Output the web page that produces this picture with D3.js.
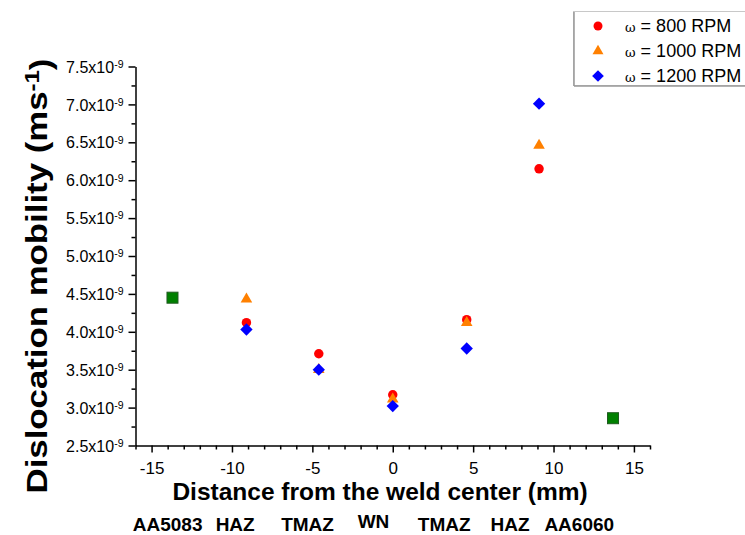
<!DOCTYPE html>
<html><head><meta charset="utf-8">
<script src="https://d3js.org/d3.v7.min.js"></script>
<style>body{margin:0;background:#fff}svg{display:block}text{font-family:Arial,"Liberation Sans",sans-serif}</style>
</head><body>
<script>
// ---- data ----
const xRpm = [-9.1, -4.6, 0, 4.6, 9.1];
const rpm800 = [4.12, 3.71, 3.17, 4.16, 6.15];
const rpm1000 = [4.43, 3.50, 3.11, 4.12, 6.46];
const rpm1200 = [4.03, 3.50, 3.02, 3.78, 7.01];
const xBase = [-13.7, 13.7];
const baseVals = [4.45, 2.86];
const seriesNames = ["\u03c9 = 800 RPM", "\u03c9 = 1000 RPM", "\u03c9 = 1200 RPM"];
const xTicks = [-15, -10, -5, 0, 5, 10, 15];
const yTicks = [2.5, 3.0, 3.5, 4.0, 4.5, 5.0, 5.5, 6.0, 6.5, 7.0, 7.5];
const zones = ["AA5083", "HAZ", "TMAZ", "WN", "TMAZ", "HAZ", "AA6060"];
const zoneX = [-14.0, -9.8, -5.3, -1.2, 3.2, 7.3, 11.6];

const W = 745, H = 535;
const svg = d3.select("body").append("svg").attr("width", W).attr("height", H);
const x = d3.scaleLinear().domain([-16, 16]).range([135.5, 650]);
const y = d3.scaleLinear().domain([2.5, 7.5]).range([445.5, 66.5]);

// axes
const xMinor = d3.range(-16, 17, 1).filter(v => v % 5 !== 0);
const yMinor = d3.range(2.75, 7.5, 0.5);
const gx = svg.append("g").attr("transform", `translate(0,${y(2.5)})`);
gx.call(d3.axisBottom(x).tickValues(xMinor).tickSize(4).tickFormat("")).call(g => g.select(".domain").remove());
gx.append("g").call(d3.axisBottom(x).tickValues(xTicks).tickSize(7).tickSizeOuter(0).tickPadding(9).tickFormat(d => String(d)));
gx.selectAll("line,path").attr("stroke", "#000").attr("stroke-width", 1.5);
gx.selectAll("text").attr("font-size", 17).attr("fill", "#000").attr("font-family", "Arial, 'Liberation Sans', sans-serif");

const gy = svg.append("g").attr("transform", `translate(${x(-16)},0)`);
gy.call(d3.axisLeft(y).tickValues(yMinor).tickSize(4).tickFormat("")).call(g => g.select(".domain").remove());
const gyMaj = gy.append("g").call(d3.axisLeft(y).tickValues(yTicks).tickSize(7).tickSizeOuter(0).tickFormat(""));
gy.selectAll("line,path").attr("stroke", "#000").attr("stroke-width", 1.5);
gyMaj.selectAll(".tick").each(function(d) {
  const t = d3.select(this).append("text").attr("x", -12).attr("dy", "0.35em")
    .attr("text-anchor", "end").attr("fill", "#000").attr("font-size", 16);
  t.append("tspan").text(d.toFixed(1) + "x10");
  t.append("tspan").attr("dy", "-0.45em").attr("font-size", 10.5).text("-9");
});

// axis titles
svg.append("text").attr("x", 380).attr("y", 500).attr("text-anchor", "middle")
  .attr("font-size", 24.5).attr("font-weight", "bold").text("Distance from the weld center (mm)");
const yt = svg.append("text").attr("transform", "translate(47,276) rotate(-90) scale(1.2,1)").attr("text-anchor", "middle")
  .attr("font-size", 29).attr("font-weight", "bold");
yt.append("tspan").text("Dislocation mobility (ms");
yt.append("tspan").attr("dy", "-0.4em").attr("font-size", 20).text("-1");
yt.append("tspan").attr("dy", "0.4em").text(")");

// zone labels
svg.append("g").selectAll("text").data(zones).join("text")
  .attr("x", (d, i) => x(zoneX[i])).attr("y", (d, i) => d === "WN" ? 528 : 531)
  .attr("text-anchor", "middle").attr("font-size", 19).attr("font-weight", "bold").text(d => d);

// markers
const colors = ["#ff0000", "#ff8000", "#0000ff"];
const shapes = [d3.symbolCircle, d3.symbolTriangle, d3.symbolSquare];
const rot = [0, 0, 45];
const sizes = [70, 58, 76];
const series = [rpm800, rpm1000, rpm1200];
series.forEach((vals, s) => {
  svg.append("g").selectAll("path").data(vals).join("path")
    .attr("transform", (d, i) => `translate(${x(xRpm[i])},${y(d)}) rotate(${rot[s]})`)
    .attr("d", d3.symbol().type(shapes[s]).size(sizes[s]))
    .attr("fill", colors[s]);
});
svg.append("g").selectAll("rect").data(baseVals).join("rect")
  .attr("x", (d, i) => x(xBase[i]) - 5.5).attr("y", d => y(d) - 5.5)
  .attr("width", 11).attr("height", 11)
  .attr("fill", "#008000").attr("stroke", "#1f5a1f").attr("stroke-width", 1);

// legend
const lg = svg.append("g");
lg.append("rect").attr("x", 573.5).attr("y", 11.5).attr("width", 180).attr("height", 74)
  .attr("fill", "#fff").attr("stroke", "#c8c8c8").attr("stroke-width", 1);
lg.append("line").attr("x1", 574).attr("x2", 574).attr("y1", 12).attr("y2", 86).attr("stroke", "#999").attr("stroke-width", 1.5);
lg.append("line").attr("x1", 574).attr("x2", 745).attr("y1", 86).attr("y2", 86).attr("stroke", "#999").attr("stroke-width", 1.5);
seriesNames.forEach((name, s) => {
  const cy = 26 + s * 25;
  lg.append("path").attr("transform", `translate(598,${cy}) rotate(${rot[s]})`)
    .attr("d", d3.symbol().type(shapes[s]).size(sizes[s] * 0.9)).attr("fill", colors[s]);
  const t = lg.append("text").attr("x", 625).attr("y", cy + 6).attr("font-size", 18).attr("fill", "#000");
  t.append("tspan").attr("font-family", "'DejaVu Serif', serif").attr("font-size", 13).text(name.slice(0, 1));
  t.append("tspan").text(name.slice(1));
});
</script>
</body></html>
